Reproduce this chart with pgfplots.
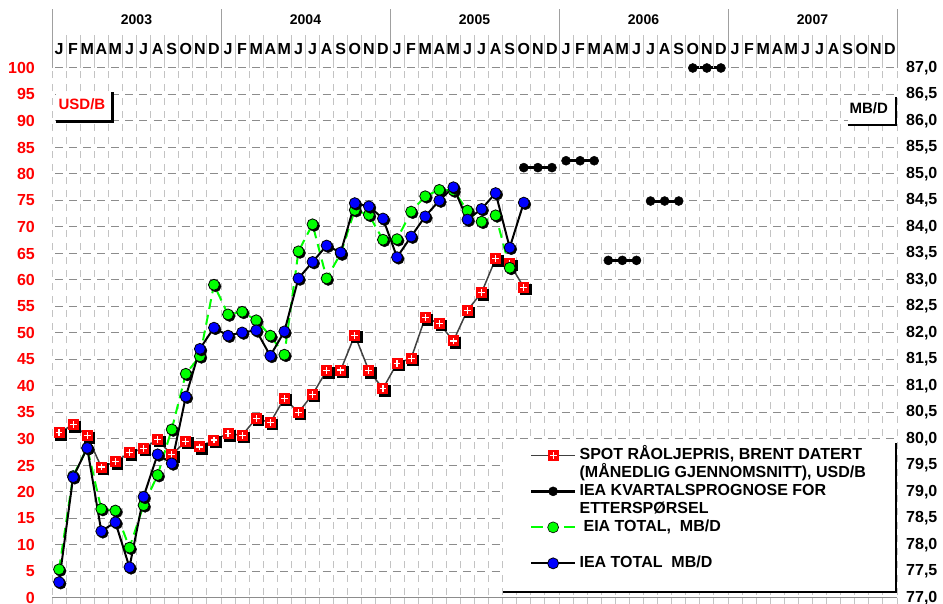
\documentclass[border=0pt]{standalone}
\usepackage{fontspec}
\setmainfont{Liberation Sans}
\usepackage{pgfplots}
\pgfplotsset{compat=1.18}
\usepackage{pgfplotstable}

\definecolor{eiagreen}{RGB}{0,255,0}
\definecolor{ieablue}{RGB}{0,0,255}
\definecolor{spotred}{RGB}{255,0,0}
\definecolor{hgrid}{RGB}{140,140,140}
\definecolor{vgrid}{RGB}{195,195,195}
\definecolor{yeargray}{RGB}{160,160,160}
\definecolor{spotline}{RGB}{64,64,64}

\pgfdeclareplotmark{sqplus}{%
  \pgfpathrectangle{\pgfpoint{-\pgfplotmarksize}{-\pgfplotmarksize}}{\pgfpoint{2\pgfplotmarksize}{2\pgfplotmarksize}}%
  \pgfsetfillcolor{spotred}\pgfusepathqfill
  \pgfsetstrokecolor{white}\pgfsetlinewidth{1.2pt}%
  \pgfpathmoveto{\pgfpoint{-0.62\pgfplotmarksize}{0pt}}\pgfpathlineto{\pgfpoint{0.62\pgfplotmarksize}{0pt}}%
  \pgfpathmoveto{\pgfpoint{0pt}{-0.62\pgfplotmarksize}}\pgfpathlineto{\pgfpoint{0pt}{0.62\pgfplotmarksize}}%
  \pgfusepathqstroke}

\pgfplotstableread{
idx spot
0 31.2
1 32.7
2 30.6
3 24.7
4 25.7
5 27.4
6 28.2
7 29.9
8 27.0
9 29.6
10 28.5
11 29.8
12 31.0
13 30.7
14 33.9
15 33.1
16 37.7
17 35.0
18 38.4
19 42.9
20 43.0
21 49.6
22 42.9
23 39.5
24 44.3
25 45.2
26 52.9
27 51.8
28 48.5
29 54.3
30 57.6
31 64.0
32 63.1
33 58.6
}\spotdata

\pgfplotstableread{
idx fc
33 81.2
34 81.2
35 81.2
35.5 nan
36 82.5
37 82.5
38 82.5
38.5 nan
39 63.7
40 63.7
41 63.7
41.5 nan
42 74.9
43 74.9
44 74.9
44.5 nan
45 100
46 100
47 100
}\fcdata

\pgfplotstableread{
idx eia iea
0 5.4 3.0
1 23.0 22.8
2 28.3 28.3
3 16.8 12.6
4 16.5 14.3
5 9.5 5.8
6 17.5 19.1
7 23.2 27.1
8 31.8 25.4
9 42.3 38.0
10 45.6 47.0
11 59.1 51.0
12 53.5 49.5
13 54.0 50.1
14 52.4 50.5
15 49.5 45.7
16 45.9 50.3
17 65.4 60.3
18 70.5 63.4
19 60.3 66.5
20 65.0 65.2
21 73.2 74.5
22 72.3 73.9
23 67.6 71.6
24 67.7 64.3
25 72.9 68.2
26 75.8 72.0
27 77.0 75.0
28 76.9 77.5
29 73.1 71.4
30 71.0 73.4
31 72.2 76.4
32 62.3 66.1
33 nan 74.6
}\demdata

\begin{document}
\begin{tikzpicture}[x=1pt,y=1pt]
\useasboundingbox (0,0) rectangle (943,604);
\begin{axis}[
  at={(52pt,6pt)}, anchor=south west,
  scale only axis, width=845pt, height=530pt,
  xmin=-0.5, xmax=59.5, ymin=0, ymax=100,
  clip=false,
  axis lines*=left, axis line style={draw=none},
  xtick={-0.5,0.5,...,59.5}, xticklabels={,,},
  ytick={0,5,...,100},
  tick style={draw=none},
  xmajorgrids, ymajorgrids,
  x grid style={vgrid, line width=1pt, dash pattern=on 7pt off 6.25pt, dash phase=10.25pt},
  y grid style={hgrid, line width=1pt, dash pattern=on 8pt off 6.083pt, dash phase=11.083pt},
  /pgf/number format/assume math mode=true,
  yticklabel style={font=\bfseries\fontsize{16}{16}\selectfont, text=spotred, inner sep=0pt, anchor=east},
  yticklabel shift=17pt,
  unbounded coords=jump,
  legend style={at={(axis cs:33.4,28.65)}, anchor=north west, draw=none, fill=none,
    inner sep=0pt, row sep=0pt, column sep=2pt,
    font=\bfseries\fontsize{16}{16}\selectfont,
    nodes={inner sep=1pt, text height=12pt, text depth=4pt}},
  legend cell align=left,
  legend image code/.code={\draw[mark repeat=2,mark phase=2] plot coordinates {(0pt,0pt) (22pt,0pt) (44pt,0pt)};},
]
% white boxes
\fill[white] (axis cs:31.52,1.13) rectangle (axis cs:59.43,29.81);
\draw[black, line width=1.2pt] (axis cs:31.52,1.13) -- (axis cs:59.43,1.13) -- (axis cs:59.43,29.2);
\fill[white] (axis cs:-0.22,89.9) rectangle (axis cs:3.83,95.5);
\draw[black, line width=3pt] (axis cs:-0.22,89.9) -- (axis cs:3.83,89.9) -- (axis cs:3.83,95.5);
\node[text=spotred, font=\bfseries\fontsize{15}{15}\selectfont] at (axis cs:1.63,93.2) {USD/B};
\fill[white] (axis cs:56.0,89.2) rectangle (axis cs:59.43,94.6);
\draw[black, line width=2.5pt] (axis cs:56.0,89.2) -- (axis cs:59.43,89.2) -- (axis cs:59.43,94.6);
\node[text=black, font=\bfseries\fontsize{15}{15}\selectfont] at (axis cs:57.5,92.4) {MB/D};

% spot price
\addplot[forget plot, only marks, mark=square*, black, mark size=5.3pt, mark options={xshift=1.8pt, yshift=-1.8pt}] table[x=idx, y=spot] {\spotdata};
\addplot[spotline, line width=1.5pt, mark=sqplus, mark size=5.5pt] table[x=idx, y=spot] {\spotdata};
\addlegendentry{SPOT RÅOLJEPRIS, BRENT DATERT}
\addlegendimage{empty legend}
\addlegendentry{(MÅNEDLIG GJENNOMSNITT), USD/B}

% forecast
\addplot[black, line width=3pt, mark=*, mark size=4.5pt, mark options={line width=0.5pt}] table[x=idx, y=fc] {\fcdata};
\addlegendentry{IEA KVARTALSPROGNOSE FOR}
\addlegendimage{empty legend}
\addlegendentry{ETTERSPØRSEL}

% EIA
\addplot[forget plot, only marks, mark=*, black, mark size=5.5pt, mark options={xshift=1.6pt, yshift=-1.6pt}] table[x=idx, y=eia] {\demdata};
\addplot[forget plot, eiagreen, line width=2pt, dash pattern=on 10pt off 6pt, mark=*, mark size=5.5pt, mark options={solid, fill=eiagreen, draw=black, line width=0.8pt}] table[x=idx, y=eia] {\demdata};
\addlegendimage{eiagreen, line width=2pt, dash pattern=on 12pt off 21pt, mark=*, mark size=5.5pt, mark options={solid, fill=eiagreen, draw=black, line width=0.6pt}}
\addlegendentry{\hspace{4pt}EIA TOTAL,\ \ MB/D}
\addlegendimage{empty legend}
\addlegendentry{}

% IEA
\addplot[forget plot, only marks, mark=*, black, mark size=5.5pt, mark options={xshift=1.6pt, yshift=-1.6pt}] table[x=idx, y=iea] {\demdata};
\addplot[black, line width=2pt, mark=*, mark size=5.5pt, mark options={fill=ieablue, draw=black, line width=0.8pt}] table[x=idx, y=iea] {\demdata};
\addlegendentry{IEA TOTAL\ \ MB/D}
\end{axis}

\begin{axis}[
  at={(52pt,6pt)}, anchor=south west,
  scale only axis, width=845pt, height=530pt,
  xmin=-0.5, xmax=59.5, ymin=77, ymax=87,
  axis x line=none, axis y line*=right, axis line style={draw=none},
  ytick distance=0.5, tick style={draw=none},
  /pgf/number format/.cd, fixed, fixed zerofill, precision=1, use comma, assume math mode=true,
  /pgfplots/.cd,
  yticklabel style={font=\bfseries\fontsize{16}{16}\selectfont, text=black, inner sep=0pt, anchor=west},
  yticklabel shift=9pt,
]
\end{axis}

% header
\foreach \i in {0,...,60} \draw[vgrid, line width=1pt] ({52+14.0833*\i},536) -- ({52+14.0833*\i},569);
\foreach \i in {0,...,5} \draw[yeargray, line width=1pt] ({52+169*\i},536) -- ({52+169*\i},595);
\foreach \yr [count=\i from 0] in {2003,2004,2005,2006,2007}
  \node[font=\bfseries\fontsize{14}{14}\selectfont] at ({52+169*\i+84.5},584) {\yr};
\foreach \m [count=\i from 0] in {J,F,M,A,M,J,J,A,S,O,N,D,J,F,M,A,M,J,J,A,S,O,N,D,J,F,M,A,M,J,J,A,S,O,N,D,J,F,M,A,M,J,J,A,S,O,N,D,J,F,M,A,M,J,J,A,S,O,N,D}
  \node[font=\bfseries\fontsize{16}{16}\selectfont] at ({52+14.0833*(\i+0.5)},555) {\m};
% bottom axis
\draw[hgrid, line width=1pt] (52,6) -- (897,6);
\foreach \i in {0,...,60} \draw[vgrid, line width=1pt] ({52+14.0833*\i},6) -- ({52+14.0833*\i},0);
\end{tikzpicture}
\end{document}
